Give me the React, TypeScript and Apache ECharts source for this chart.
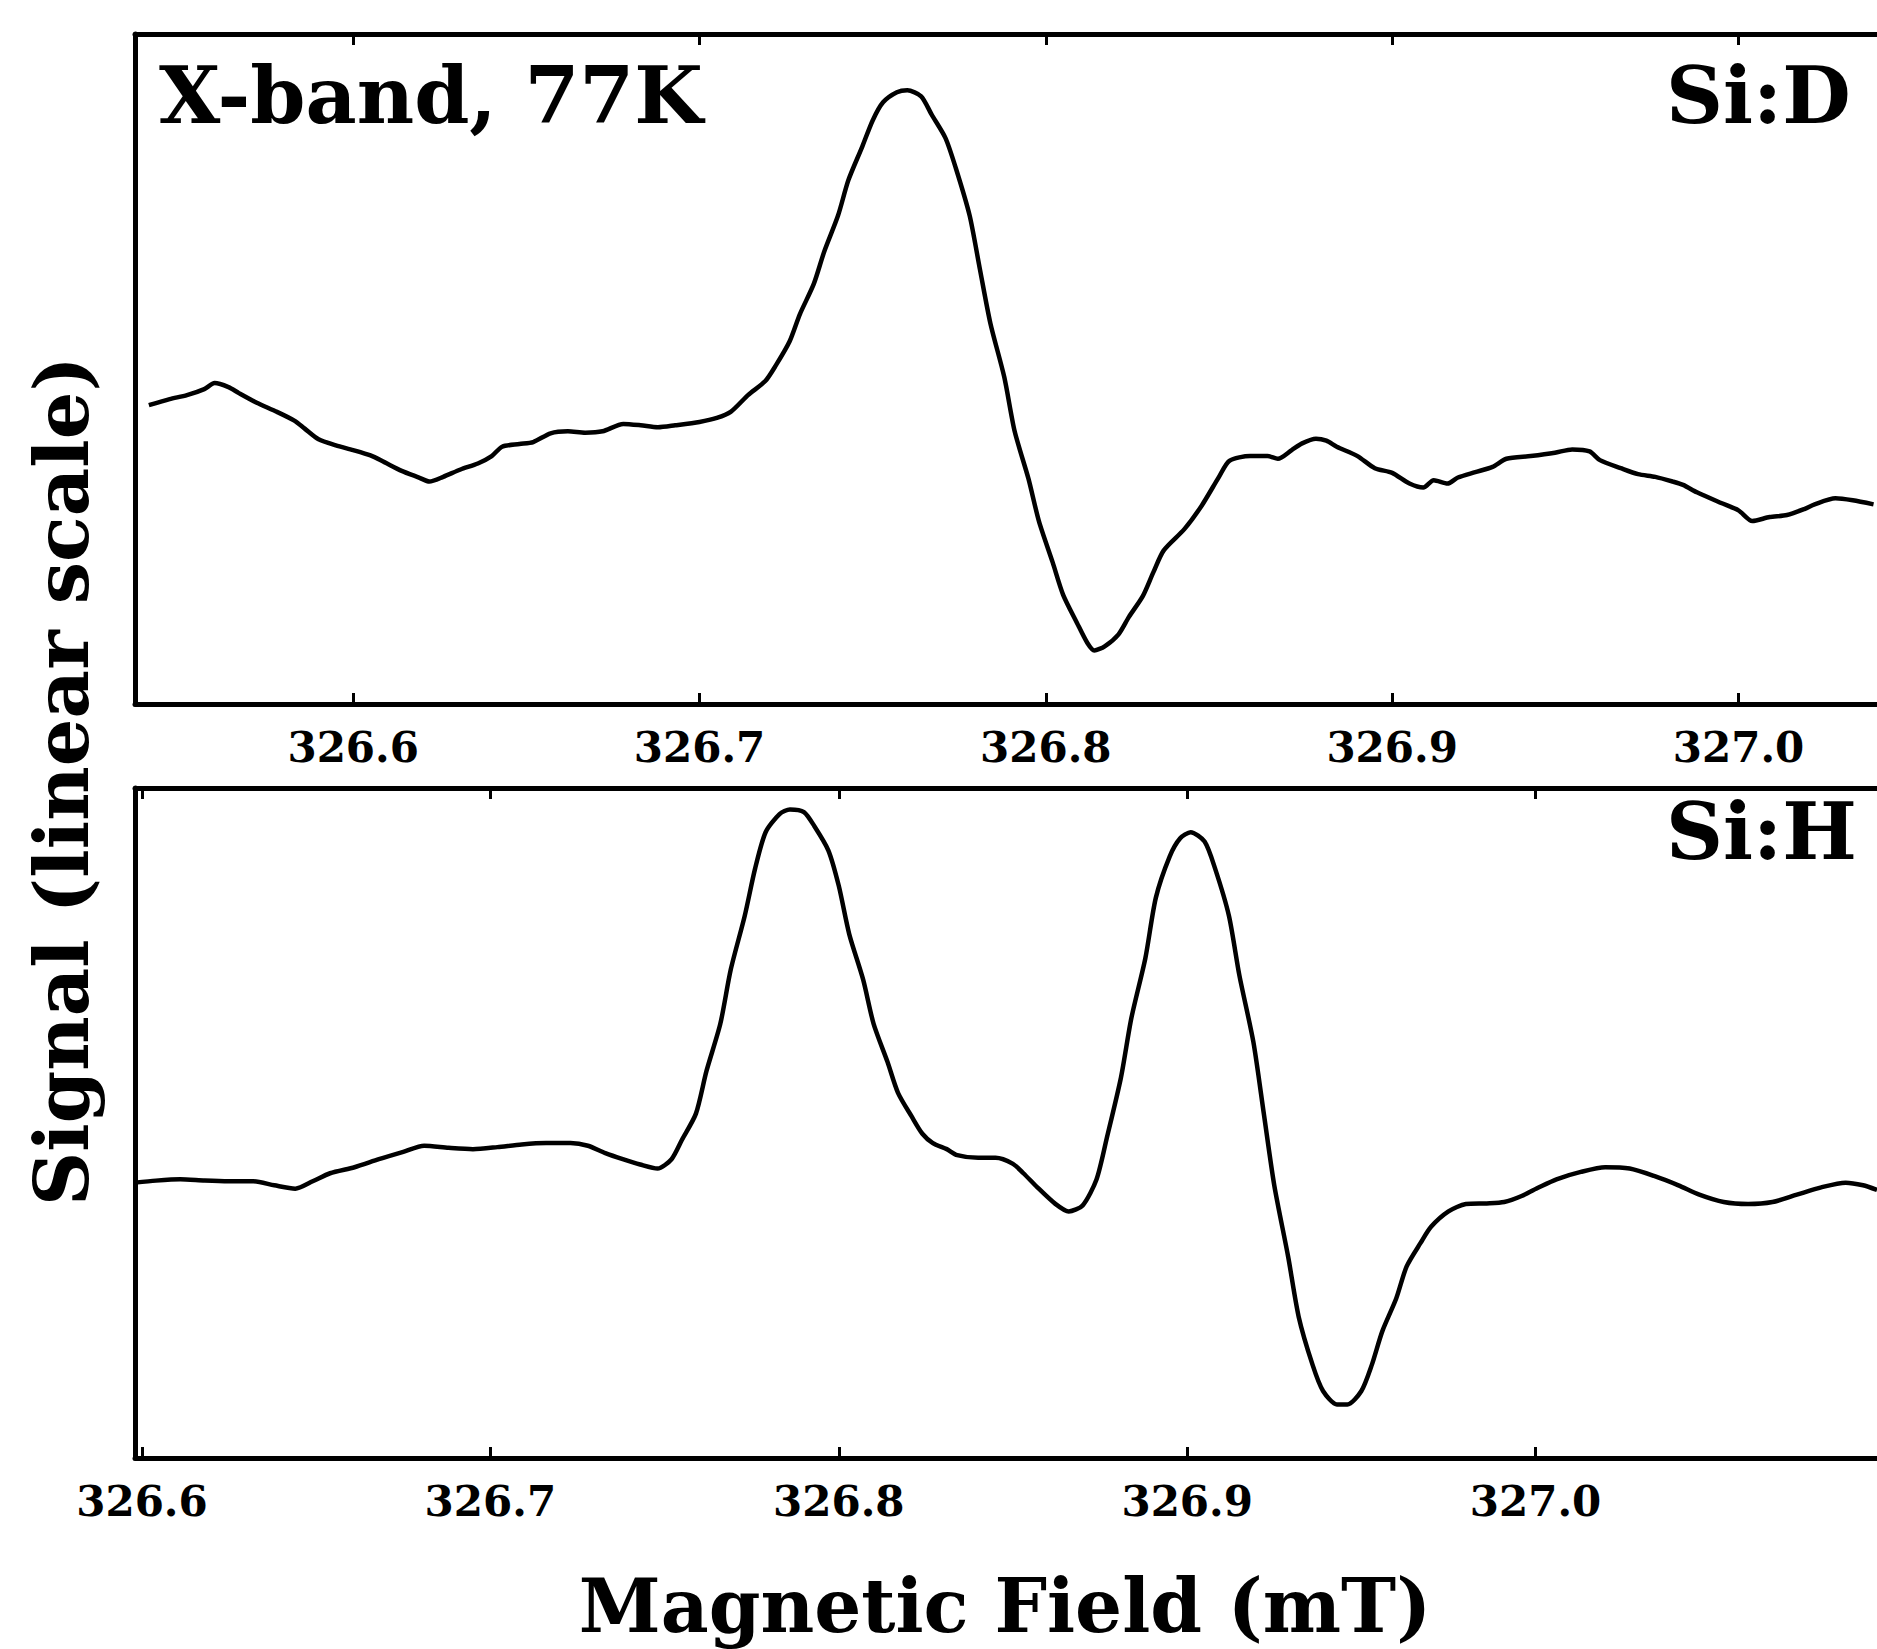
import React, { useEffect, useRef } from "react";
import * as echarts from "echarts";

// Si:D spectrum (upper panel), field in mT, signal in arbitrary units
const topField = [
  326.541, 326.547, 326.552, 326.557, 326.56, 326.564, 326.567, 326.572, 326.578, 326.583,
  326.586, 326.59, 326.595, 326.6, 326.605, 326.609, 326.614, 326.619, 326.622, 326.626,
  326.631, 326.636, 326.64, 326.643, 326.648, 326.652, 326.657, 326.662, 326.667, 326.672,
  326.678, 326.683, 326.688, 326.693, 326.7, 326.705, 326.709, 326.714, 326.719, 326.722,
  326.726, 326.729, 326.733, 326.736, 326.74, 326.743, 326.747, 326.75, 326.753, 326.757,
  326.76, 326.764, 326.767, 326.771, 326.774, 326.778, 326.781, 326.784, 326.788, 326.791,
  326.795, 326.798, 326.802, 326.805, 326.809, 326.812, 326.814, 326.817, 326.821, 326.824,
  326.828, 326.831, 326.834, 326.84, 326.845, 326.85, 326.853, 326.859, 326.864, 326.867,
  326.871, 326.874, 326.878, 326.881, 326.884, 326.89, 326.895, 326.9, 326.905, 326.909,
  326.912, 326.916, 326.919, 326.924, 326.929, 326.933, 326.94, 326.947, 326.952, 326.957,
  326.96, 326.966, 326.971, 326.976, 326.981, 326.984, 326.988, 326.995, 327.0, 327.004,
  327.009, 327.014, 327.019, 327.022, 327.028, 327.033, 327.039,
];
const topSignal = [
  44.6, 45.5, 46.1, 47.0, 47.9, 47.3, 46.4, 45.0, 43.6, 42.3,
  41.1, 39.5, 38.6, 37.9, 37.1, 36.1, 34.8, 33.8, 33.2, 33.9,
  35.0, 35.9, 37.0, 38.4, 38.8, 39.1, 40.4, 40.7, 40.5, 40.7,
  41.8, 41.6, 41.3, 41.6, 42.1, 42.7, 43.6, 46.1, 48.2, 50.5,
  54.1, 58.2, 62.7, 67.5, 72.9, 78.2, 83.2, 87.1, 89.8, 91.3,
  91.6, 90.7, 88.0, 84.5, 80.0, 72.9, 64.8, 56.8, 48.8, 40.7,
  33.6, 27.3, 21.1, 16.3, 12.1, 9.1, 8.0, 8.6, 10.4, 13.0,
  16.1, 19.6, 22.9, 26.1, 29.6, 33.9, 36.3, 37.0, 37.0, 36.6,
  37.9, 38.9, 39.6, 39.3, 38.4, 37.0, 35.2, 34.5, 32.9, 32.3,
  33.4, 32.9, 33.8, 34.6, 35.4, 36.6, 37.0, 37.5, 38.0, 37.7,
  36.4, 35.2, 34.3, 33.9, 33.2, 32.7, 31.6, 30.0, 28.9, 27.3,
  27.9, 28.2, 29.1, 29.8, 30.7, 30.4, 29.8,
];

// Si:H spectrum (lower panel)
const bottomField = [
  326.598, 326.604, 326.611, 326.618, 326.625, 326.632, 326.638, 326.644, 326.649, 326.654,
  326.661, 326.668, 326.675, 326.681, 326.688, 326.695, 326.702, 326.709, 326.716, 326.723,
  326.728, 326.733, 326.738, 326.743, 326.748, 326.752, 326.755, 326.759, 326.762, 326.766,
  326.769, 326.773, 326.776, 326.779, 326.783, 326.786, 326.79, 326.793, 326.797, 326.8,
  326.803, 326.807, 326.81, 326.814, 326.817, 326.821, 326.824, 326.827, 326.831, 326.834,
  326.84, 326.845, 326.85, 326.853, 326.857, 326.862, 326.866, 326.87, 326.874, 326.877,
  326.881, 326.884, 326.888, 326.891, 326.895, 326.898, 326.901, 326.905, 326.908, 326.912,
  326.915, 326.919, 326.922, 326.925, 326.929, 326.932, 326.936, 326.939, 326.943, 326.946,
  326.95, 326.953, 326.956, 326.96, 326.963, 326.967, 326.97, 326.975, 326.98, 326.986,
  326.991, 326.996, 327.001, 327.006, 327.013, 327.02, 327.027, 327.034, 327.041, 327.047,
  327.054, 327.061, 327.068, 327.075, 327.082, 327.089, 327.094, 327.098,
];
const bottomSignal = [
  41.1, 41.4, 41.6, 41.4, 41.3, 41.3, 40.7, 40.2, 41.3, 42.5,
  43.4, 44.6, 45.7, 46.6, 46.3, 46.1, 46.4, 46.8, 47.0, 47.0,
  46.6, 45.5, 44.6, 43.8, 43.2, 44.6, 47.5, 51.4, 57.7, 64.8,
  72.9, 80.9, 88.0, 93.4, 96.1, 96.8, 96.4, 94.3, 90.7, 85.4,
  78.2, 71.4, 64.8, 59.1, 54.5, 50.9, 48.4, 47.0, 46.1, 45.2,
  44.8, 44.8, 43.9, 42.5, 40.4, 38.0, 36.8, 37.7, 41.6, 47.9,
  56.8, 65.7, 74.6, 83.6, 89.8, 92.5, 93.4, 92.0, 88.0, 80.9,
  72.0, 62.1, 51.4, 40.7, 30.0, 21.1, 13.9, 10.0, 8.0, 8.0,
  10.0, 13.9, 18.9, 23.8, 28.6, 32.1, 34.5, 36.8, 37.9, 38.0,
  38.2, 39.1, 40.4, 41.6, 42.7, 43.4, 43.2, 42.1, 40.7, 39.3,
  38.2, 37.9, 38.2, 39.3, 40.4, 41.1, 40.7, 40.0,
];

const tickValues = [326.6, 326.7, 326.8, 326.9, 327.0];
const conditionLabel = "X-band, 77K";
const panelLabels = ["Si:D", "Si:H"];
const xTitle = "Magnetic Field (mT)";
const yTitle = "Signal (linear scale)";

const FONT = "'DejaVu Serif', 'Liberation Serif', serif";

export default function App() {
  const ref = useRef<HTMLDivElement>(null);

  useEffect(() => {
    const chart = echarts.init(ref.current!, null, { renderer: "svg" });

    const frameLine = { show: true, lineStyle: { color: "#000", width: 5 } };
    const tick = {
      show: true,
      inside: true,
      length: 11,
      customValues: tickValues,
      lineStyle: { color: "#000", width: 3 },
    };
    const label = {
      show: true,
      customValues: tickValues,
      formatter: (v: number) => v.toFixed(1),
      fontFamily: FONT,
      fontWeight: "bold" as const,
      fontSize: 42,
      color: "#000",
      margin: 22,
    };
    const ranges = [
      [326.537, 327.04],
      [326.598, 327.098],
    ];

    const xAxes: any[] = [];
    [0, 1].forEach((g) => {
      xAxes.push({
        type: "value",
        gridIndex: g,
        position: "bottom",
        min: ranges[g][0],
        max: ranges[g][1],
        axisLine: frameLine,
        axisTick: tick,
        axisLabel: label,
        splitLine: { show: false },
      });
      xAxes.push({
        type: "value",
        gridIndex: g,
        position: "top",
        min: ranges[g][0],
        max: ranges[g][1],
        axisLine: frameLine,
        axisTick: tick,
        axisLabel: { show: false },
        splitLine: { show: false },
      });
    });

    const yAxes = [0, 1].map((g) => ({
      type: "value",
      gridIndex: g,
      min: 0,
      max: 100,
      axisLine: frameLine,
      axisTick: { show: false },
      axisLabel: { show: false },
      splitLine: { show: false },
    }));

    const textStyle = (size: number) => ({
      fill: "#000",
      fontFamily: FONT,
      fontWeight: "bold",
      fontSize: size,
    });

    chart.setOption({
      animation: false,
      backgroundColor: "#fff",
      grid: [
        { left: 135, right: 0, top: 34, bottom: 945, containLabel: false },
        { left: 135, right: 0, top: 788, bottom: 191, containLabel: false },
      ],
      xAxis: xAxes,
      yAxis: yAxes,
      series: [
        {
          type: "line",
          xAxisIndex: 0,
          yAxisIndex: 0,
          data: topField.map((x, i) => [x, topSignal[i]]),
          showSymbol: false,
          smooth: 0.25,
          lineStyle: { color: "#000", width: 4.5 },
        },
        {
          type: "line",
          xAxisIndex: 2,
          yAxisIndex: 1,
          data: bottomField.map((x, i) => [x, bottomSignal[i]]),
          showSymbol: false,
          smooth: 0.25,
          lineStyle: { color: "#000", width: 4.5 },
        },
      ],
      graphic: [
        {
          type: "text",
          left: 159,
          top: 56,
          style: { text: conditionLabel, ...textStyle(79) },
        },
        {
          type: "text",
          left: 1666,
          top: 56,
          style: { text: panelLabels[0], ...textStyle(79) },
        },
        {
          type: "text",
          left: 1666,
          top: 792,
          style: { text: panelLabels[1], ...textStyle(79) },
        },
        {
          type: "text",
          x: 1005,
          y: 1606,
          style: { text: xTitle, ...textStyle(74), align: "center", verticalAlign: "middle" },
        },
        {
          type: "text",
          x: 62,
          y: 781,
          rotation: Math.PI / 2,
          style: { text: yTitle, ...textStyle(75), align: "center", verticalAlign: "middle" },
        },
      ],
    });

    return () => chart.dispose();
  }, []);

  return (
    <div
      ref={ref}
      style={{ position: "fixed", left: 0, top: 0, width: 1877, height: 1649, background: "#fff" }}
    />
  );
}
